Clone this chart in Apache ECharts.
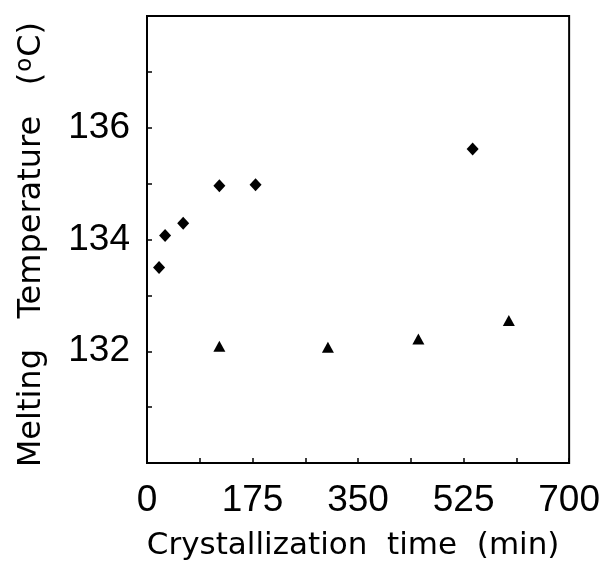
<!DOCTYPE html>
<html>
<head>
<meta charset="utf-8">
<script src="https://cdn.jsdelivr.net/npm/echarts@6/dist/echarts.min.js"></script>
<style>html,body{margin:0;padding:0;background:#fff}#c{width:603px;height:573px}</style>
</head>
<body>
<div id="c"></div>
<script>
// Diamond series
var diamondTimes = [20, 30, 60, 120, 180, 540];
var diamondTemps = [133.50, 134.07, 134.29, 134.96, 134.98, 135.62];
// Triangle series
var triangleTimes = [120, 300, 450, 600];
var triangleTemps = [132.09, 132.07, 132.22, 132.55];
// Axis tick labels
var xTickLabels = [0, 175, 350, 525, 700];
var yTickLabels = [132, 134, 136];

function pairs(xs, ys) { return xs.map(function (x, i) { return [x, ys[i]]; }); }

var tickFont = 'Liberation Sans, Arial, Helvetica, sans-serif';
var titleFont = 'DejaVu Sans, sans-serif';
var chart = echarts.init(document.getElementById('c'), null, {renderer: 'canvas'});
chart.setOption({
  animation: false,
  backgroundColor: '#fff',
  grid: {left: 147, right: 32, top: 16, bottom: 110, show: true, borderColor: '#000', borderWidth: 2, backgroundColor: 'transparent'},
  xAxis: {
    type: 'value', min: 0, max: 700, interval: 175,
    name: 'Crystallization  time  (min) ', nameLocation: 'middle', nameGap: 67,
    nameTextStyle: {fontFamily: titleFont, fontSize: 31, color: '#000'},
    axisLine: {show: true, lineStyle: {color: '#000', width: 2}},
    axisTick: {show: true, inside: true, length: 5, lineStyle: {color: '#000', width: 1.5}},
    minorTick: {show: true, splitNumber: 2, length: 5, lineStyle: {color: '#000', width: 1.5}},
    splitLine: {show: false},
    axisLabel: {fontFamily: tickFont, fontSize: 37, color: '#000', margin: 19,
      formatter: function (v) { return xTickLabels.indexOf(v) >= 0 ? String(v) : ''; }}
  },
  yAxis: {
    type: 'value', min: 130, max: 138, interval: 2,
    name: '{t|Melting   Temperature   (}{s|o}{t|C) }', nameLocation: 'middle', nameGap: 98,
    nameTextStyle: {rich: {
      t: {fontFamily: titleFont, fontSize: 32, color: '#000'},
      s: {fontFamily: titleFont, fontSize: 23, color: '#000', verticalAlign: 'top', padding: [0, 1, 12, 1]}
    }},
    axisLine: {show: true, lineStyle: {color: '#000', width: 2}},
    axisTick: {show: true, inside: true, length: 5, lineStyle: {color: '#000', width: 1.5}},
    minorTick: {show: true, splitNumber: 2, length: 5, lineStyle: {color: '#000', width: 1.5}},
    splitLine: {show: false},
    axisLabel: {fontFamily: tickFont, fontSize: 37, color: '#000', margin: 17,
      formatter: function (v) { return yTickLabels.indexOf(v) >= 0 ? String(v) : ''; }}
  },
  series: [
    {type: 'scatter', symbol: 'diamond', symbolSize: [12, 13], itemStyle: {color: '#000', opacity: 1}, data: pairs(diamondTimes, diamondTemps)},
    {type: 'scatter', symbol: 'triangle', symbolSize: [12, 11], itemStyle: {color: '#000', opacity: 1}, data: pairs(triangleTimes, triangleTemps)}
  ]
});
</script>
</body>
</html>
